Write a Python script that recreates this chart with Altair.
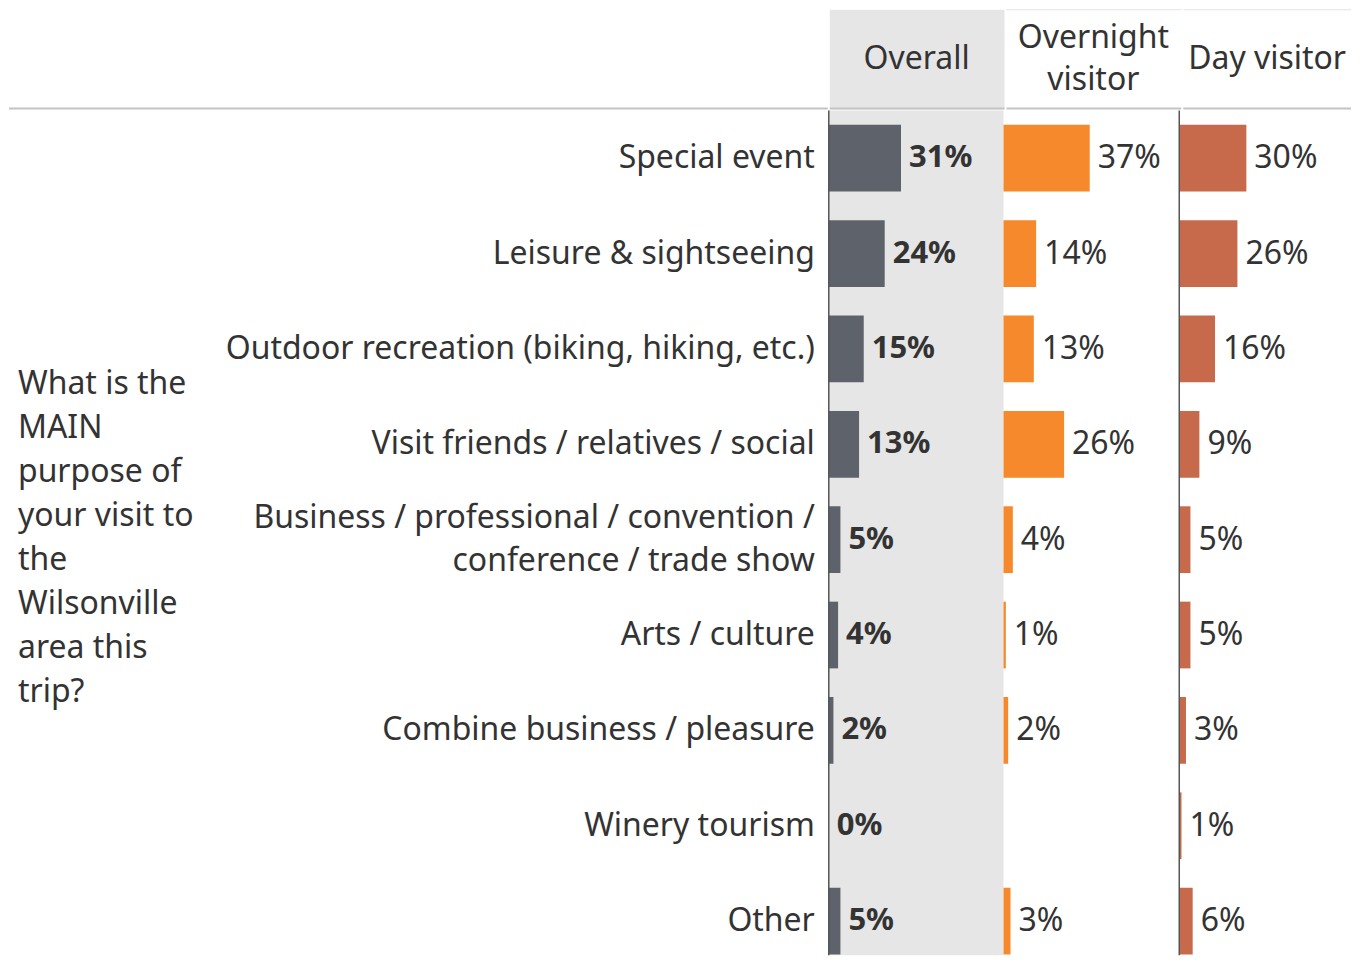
import altair as alt
import pandas as pd

categories = [
    "Special event",
    "Leisure & sightseeing",
    "Outdoor recreation (biking, hiking, etc.)",
    "Visit friends / relatives / social",
    "Business / professional / convention /\nconference / trade show",
    "Arts / culture",
    "Combine business / pleasure",
    "Winery tourism",
    "Other",
]
groups = ["Overall", "Overnight visitor", "Day visitor"]
group_headers = ["Overall", "Overnight\nvisitor", "Day visitor"]
overall = [31, 24, 15, 13, 5, 4, 2, 0, 5]
overnight = [37, 14, 13, 26, 4, 1, 2, None, 3]
day_visitor = [30, 26, 16, 9, 5, 5, 3, 1, 6]
question = "What is the\nMAIN\npurpose of\nyour visit to\nthe\nWilsonville\narea this\ntrip?"

colors = ["#5e636b", "#f5892b", "#c66a4b"]
FONT = "Noto Sans"
FS = 32
TEXT = "#333333"
LEFT_W = 820
COL_W = [175, 175, 168]
HEAD_X = [87, 87, 84]
HEAD_H = 100
BODY_H = 846
ROW_STEP = 95.5

rows = []
for g, vals in zip(groups, [overall, overnight, day_visitor]):
    for c, v in zip(categories, vals):
        if v is None:
            continue
        rows.append({"group": g, "category": c, "value": v, "label": f"{v}%"})
df = pd.DataFrame(rows)
cat_df = pd.DataFrame({"category": categories,
                       "lines": [c.count("\n") + 1 for c in categories]})

yscale = alt.Scale(domain=categories, paddingInner=0.3, paddingOuter=0.15,
                   range=[0, ROW_STEP * len(categories)])
Y = alt.Y("category:N", sort=categories, scale=yscale, axis=None)

# ---------- body ----------
LH_CAT = 43
cat_layers = []
for n in sorted(set(cat_df["lines"])):
    cat_layers.append(
        alt.Chart(cat_df).transform_filter(alt.datum.lines == n).mark_text(
            align="right", baseline="middle", lineBreak="\n", lineHeight=LH_CAT,
            font=FONT, fontSize=FS, color=TEXT, dy=-(n - 1) * LH_CAT / 2
        ).encode(y=Y, x=alt.value(LEFT_W - 13), text="category:N")
    )

q_lines = question.count("\n") + 1
LH_Q = 44
q_text = alt.Chart(pd.DataFrame({"q": [question]})).mark_text(
    align="left", baseline="middle", lineBreak="\n", lineHeight=LH_Q,
    font=FONT, fontSize=FS, color=TEXT, dy=-(q_lines - 1) * LH_Q / 2
).encode(x=alt.value(9), y=alt.value(428), text="q:N")

left_body = alt.layer(q_text, *cat_layers).properties(
    width=LEFT_W, height=BODY_H, view=alt.ViewBackground(stroke=None)
)


def body_panel(i, bold, rule, fill):
    d = df[df.group == groups[i]]
    X = alt.X("value:Q", scale=alt.Scale(domain=[0, 75]), axis=None)
    bars = alt.Chart(d).mark_bar(color=colors[i]).encode(x=X, y=Y)
    labels = alt.Chart(d).mark_text(
        align="left", baseline="middle", dx=8, font=FONT,
        fontSize=31 if bold else FS,
        fontWeight="bold" if bold else "normal", color=TEXT
    ).encode(x=X, y=Y, text="label:N")
    layers = [bars, labels]
    if rule:
        r = alt.Chart(pd.DataFrame({"g": [groups[i]]})).mark_rule(
            color="#555555", strokeWidth=1.5
        ).encode(x=alt.value(0), y=alt.value(0), y2=alt.value(BODY_H))
        layers.append(r)
    vb = alt.ViewBackground(stroke=None, fill=fill) if fill else alt.ViewBackground(stroke=None)
    return alt.layer(*layers).properties(width=COL_W[i], height=BODY_H, view=vb)


body = alt.hconcat(
    left_body,
    body_panel(0, True, True, "#e6e6e6"),
    body_panel(1, False, False, None),
    body_panel(2, False, True, None),
    spacing=0,
)


# ---------- header ----------
def hline(w):
    return alt.Chart(pd.DataFrame({"g": ["line"]})).mark_rule(
        color="#c4c4c4", strokeWidth=2
    ).encode(x=alt.value(0), x2=alt.value(w), y=alt.value(HEAD_H - 1))


left_head = alt.layer(hline(LEFT_W)).properties(
    width=LEFT_W, height=HEAD_H, view=alt.ViewBackground(stroke=None)
)

LH_H = 42


def head_panel(i, fill):
    n = group_headers[i].count("\n") + 1
    t = alt.Chart(pd.DataFrame({"h": [group_headers[i]]})).mark_text(
        align="center", baseline="middle", lineBreak="\n", lineHeight=LH_H,
        font=FONT, fontSize=FS, color=TEXT, dy=-(n - 1) * LH_H / 2
    ).encode(x=alt.value(HEAD_X[i]), y=alt.value(49), text="h:N")
    layers = [t, hline(COL_W[i])]
    if not fill:
        top = alt.Chart(pd.DataFrame({"g": ["top"]})).mark_rule(
            color="#e4e4e4", strokeWidth=1
        ).encode(x=alt.value(0), x2=alt.value(COL_W[i]), y=alt.value(0))
        layers.append(top)
    vb = alt.ViewBackground(stroke=None, fill=fill) if fill else alt.ViewBackground(stroke=None)
    return alt.layer(*layers).properties(width=COL_W[i], height=HEAD_H, view=vb)


header = alt.hconcat(
    left_head,
    head_panel(0, "#e6e6e6"),
    head_panel(1, None),
    head_panel(2, None),
    spacing=0,
)

chart = alt.vconcat(header, body, spacing=0).properties(padding=0).configure_view(
    stroke=None
).configure_concat(spacing=0)

chart.save("out.html", embed_options={"renderer": "svg", "actions": False})
